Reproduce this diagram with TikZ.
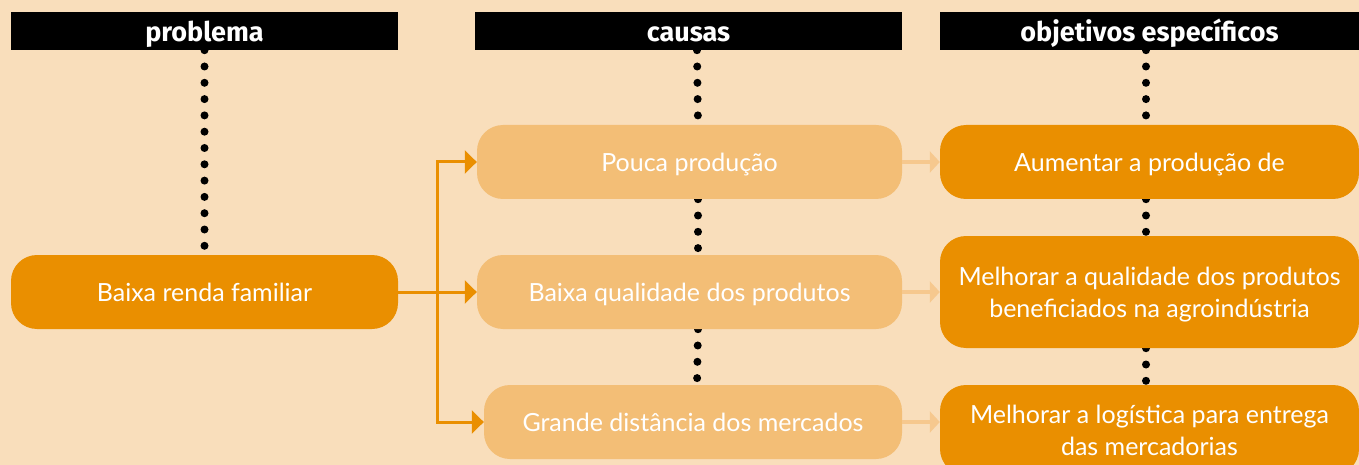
\documentclass[tikz,border=0pt]{standalone}
\usepackage{fontspec}
\usepackage{tikz}
\usetikzlibrary{arrows.meta,positioning,backgrounds}
\newfontfamily\headfont{Fira Sans}
\newfontfamily\boxfont{Lato}
\definecolor{peach}{HTML}{F9DEBB}
\definecolor{deeporange}{HTML}{EA8F00}
\definecolor{paleorange}{HTML}{F3BE76}
\definecolor{paleline}{HTML}{F6C88E}

\begin{document}
\begin{tikzpicture}[x=1pt,y=-1pt]
% STYLES
\tikzset{%
    header/.style={%
        rectangle, fill=black, text=white, minimum height=38pt, inner sep=0pt,
        text height=21pt, text depth=0pt,
        font=\headfont\bfseries\fontsize{27}{28}\selectfont
    },
    goal/.style={%
        rectangle, rounded corners=26pt, fill=deeporange, text=white,
        align=center, inner sep=0pt, text depth=0pt,
        font=\boxfont\fontsize{25}{32}\selectfont
    },
    cause/.style={goal, fill=paleorange},
    dots/.style={line width=8pt, line cap=round, dash pattern=on 0pt off 16.3pt},
    link/.style={line width=3pt, deeporange, -{Triangle[length=12pt,width=23pt]}},
    paleink/.style={line width=4pt, paleline, -{Triangle[length=10pt,width=21pt]}}
}
\useasboundingbox (0,0) rectangle (1359,465);
% Column headers
\node[header, minimum width=387pt] (hprob) at (204.5,31) {problema};
\node[header, minimum width=427pt] (hcaus) at (688.5,31) {causas};
\node[header, minimum width=419pt] (hobj) at (1149.5,31) {objetivos específicos};
% Problem
\node[goal, minimum width=387pt, minimum height=74pt] (renda) at (204.5,292) {Baixa renda familiar};
% Causes
\node[cause, minimum width=425pt, minimum height=74pt] (pouca) at (689.5,162) {Pouca produção};
\node[cause, minimum width=425pt, minimum height=74pt] (qualid) at (689.5,292) {Baixa qualidade dos produtos};
\node[cause, minimum width=418pt, minimum height=74pt] (dist) at (693,422) {Grande distância dos mercados};
% Objectives
\node[goal, minimum width=419pt, minimum height=74pt] (aument) at (1149.5,162) {Aumentar a produção de};
\node[goal, minimum width=419pt, minimum height=112pt] (melqual) at (1149.5,292) {Melhorar a qualidade dos produtos\\beneficiados na agroindústria};
\node[goal, minimum width=419pt, minimum height=90pt] (mellog) at (1149.5,430) {Melhorar a logística para entrega\\das mercadorias};
% Dotted guides
\begin{scope}[on background layer]
    \fill[peach] (0,0) rectangle (1359,465);
    \draw[dots] (hprob.south) -- (renda.north);
    \draw[dots] ([xshift=8.5pt]hcaus.south) -- ([xshift=8.5pt]pouca.north);
    \draw[dots] ([xshift=8.5pt]pouca.south) -- ([xshift=8.5pt]qualid.north);
    \draw[dots] ([xshift=8.5pt]qualid.south) -- ([xshift=4pt]dist.north);
    \draw[dots] ([xshift=-3.5pt]hobj.south) -- ([xshift=-3.5pt]aument.north);
    \draw[dots] ([xshift=-3.5pt]aument.south) -- ([xshift=-3.5pt]melqual.north);
    \draw[dots] ([xshift=-3.5pt]melqual.south) -- ([xshift=-3.5pt]mellog.north);
\end{scope}
% Links
\coordinate (split) at ([xshift=39pt]renda.east);
\draw[line width=3pt, deeporange] (renda.east) -- (split);
\draw[link] (split) |- (pouca.west);
\draw[link] (split) -- (qualid.west);
\draw[link] (split) |- (dist.west);
\draw[paleink] (pouca) -- (aument);
\draw[paleink] (qualid) -- (melqual);
\draw[paleink] (dist.east) -- (dist.east -| mellog.west);
\end{tikzpicture}
\end{document}
